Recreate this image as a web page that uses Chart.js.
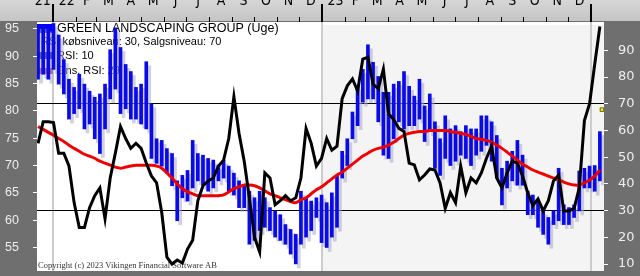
<!DOCTYPE html>
<html>
<head>
<meta charset="utf-8">
<script src="https://cdn.jsdelivr.net/npm/chart.js@4.4.1/dist/chart.umd.min.js"></script>
<style>
  html, body { margin: 0; padding: 0; background: #6f6f6f; }
  #wrap { width: 640px; height: 276px; }
</style>
</head>
<body>
<div id="wrap"><canvas id="chart" width="640" height="276"></canvas></div>
<script>
// Weekly price bars (left axis), RSI and average RSI (right axis)
const highs = [
  95.7, 95.7, 95.2, 96.0, 93.9, 89.4, 85.8, 84.3, 86.7, 84.9,
  83.6, 82.5, 83.1, 84.9, 91.2, 95.2, 91.6, 88.5, 87.2, 84.3,
  84.9, 89.0, 81.3, 74.9, 74.6, 73.1, 72.2, 67.2, 68.2, 69.1,
  74.6, 72.2, 71.9, 71.3, 71.0, 70.0, 71.0, 69.9, 68.6, 67.2,
  66.4, 65.3, 64.1, 65.3, 64.1, 62.3, 61.7, 61.0, 59.2, 58.3,
  57.4, 65.3, 64.1, 63.5, 64.1, 64.6, 63.2, 65.0, 68.2, 72.6,
  74.9, 79.8, 84.5, 87.6, 92.1, 88.9, 86.3, 83.4, 83.4, 84.9,
  85.4, 87.2, 84.5, 82.7, 85.8, 80.9, 83.1, 78.0, 74.9, 79.1,
  76.7, 77.3, 76.2, 77.3, 76.7, 76.7, 79.1, 79.1, 78.0, 75.5,
  69.5, 70.8, 72.6, 74.6, 71.9, 65.3, 64.6, 63.5, 61.7, 60.5,
  61.7, 69.5, 62.8, 62.3, 62.8, 69.0, 69.5, 69.9, 70.0, 76.2
];
const lows = [
  85.8, 86.7, 85.8, 87.6, 84.9, 83.1, 78.5, 79.5, 80.4, 76.7,
  77.6, 74.9, 72.2, 76.7, 82.2, 84.0, 79.5, 80.4, 78.5, 78.5,
  77.6, 76.7, 71.3, 70.4, 69.9, 68.6, 66.3, 59.9, 64.1, 63.5,
  65.9, 67.2, 66.4, 65.3, 65.9, 67.2, 67.7, 65.3, 64.6, 62.3,
  62.3, 55.6, 56.3, 58.1, 58.7, 58.1, 56.9, 56.3, 55.6, 53.8,
  52.0, 55.6, 56.9, 58.1, 60.5, 55.9, 55.0, 56.9, 58.7, 67.7,
  70.0, 74.9, 77.3, 81.6, 82.2, 82.2, 78.0, 71.9, 71.3, 74.9,
  78.0, 76.7, 77.3, 77.3, 78.5, 74.4, 76.2, 69.5, 68.2, 71.3,
  70.0, 70.8, 71.9, 71.3, 70.0, 71.9, 72.6, 73.7, 70.8, 67.7,
  62.8, 65.9, 67.2, 66.4, 66.4, 61.0, 61.0, 58.7, 57.4, 55.6,
  59.2, 59.9, 59.2, 59.2, 60.5, 61.7, 65.9, 65.9, 65.3, 67.2
];
const rsi = [
  55.2, 63.3, 63.3, 63.0, 51.5, 51.5, 46.7, 33.0, 23.7, 23.7,
  31.1, 35.6, 38.5, 27.0, 42.2, 51.5, 61.5, 57.0, 53.3, 55.2,
  53.3, 47.8, 43.0, 40.4, 29.3, 12.6, 10.0, 11.5, 10.4, 15.6,
  18.9, 33.7, 39.3, 41.1, 42.2, 46.7, 48.9, 57.0, 72.6, 58.9,
  48.5, 34.8, 20.0, 14.5, 44.1, 42.2, 32.2, 33.7, 35.6, 33.7,
  34.8, 42.2, 60.8, 55.2, 46.7, 49.6, 57.0, 52.6, 54.1, 71.9,
  76.7, 79.3, 74.8, 86.7, 87.4, 77.4, 75.6, 83.0, 66.3, 64.1,
  60.8, 59.6, 47.8, 47.1, 41.5, 43.3, 45.6, 45.2, 40.4, 30.8,
  36.7, 33.0, 46.7, 36.7, 42.2, 40.4, 44.1, 49.6, 54.1, 42.2,
  38.5, 44.1, 48.5, 47.8, 43.0, 36.7, 31.9, 34.4, 29.9, 33.7,
  41.1, 43.3, 29.9, 29.9, 30.8, 38.5, 63.7, 70.0, 84.8, 98.9
];
const rsiAvg = [
  61.5, 60.4, 59.3, 58.2, 57.0, 55.9, 54.5, 53.3, 52.2, 51.1,
  50.4, 49.6, 48.5, 47.8, 47.0, 46.3, 45.9, 46.3, 46.7, 47.0,
  47.0, 47.0, 47.0, 46.7, 45.9, 44.1, 42.2, 40.0, 38.2, 37.0,
  36.3, 35.6, 35.6, 35.6, 35.6, 35.6, 35.9, 37.0, 38.2, 38.9,
  39.6, 39.6, 39.3, 38.5, 37.4, 36.3, 35.6, 34.8, 34.1, 33.4,
  33.0, 34.1, 34.8, 36.3, 37.8, 38.9, 40.4, 41.9, 43.3, 44.4,
  45.9, 47.4, 48.9, 50.4, 51.5, 52.6, 53.3, 53.7, 54.5, 55.6,
  57.0, 58.2, 58.9, 59.3, 59.6, 59.6, 60.0, 60.0, 60.0, 60.0,
  59.6, 59.3, 58.9, 58.5, 57.8, 57.0, 56.7, 56.3, 55.6, 54.5,
  53.3, 51.9, 50.4, 48.9, 47.4, 46.3, 45.2, 44.4, 43.7, 42.9,
  42.2, 41.5, 40.7, 40.0, 39.6, 39.6, 40.4, 41.5, 42.9, 45.2
];
// week number relative to the first week of 2022 (first three bars are December 2021)
const weekNo = highs.map((_, i) => i - 3);
// small yellow marker at the right edge (right axis)
const markerWeek = [106.4];
const markerValue = [67.8];

const topLabels = ["'21", "'22", 'F', 'M', 'A', 'M', 'J', 'J', 'A', 'S', 'O', 'N', 'D',
                   "'23", 'F', 'M', 'A', 'M', 'J', 'J', 'A', 'S', 'O', 'N', 'D'];
const leftTicks = [55, 60, 65, 70, 75, 80, 85, 90, 95];
const rightTicks = [10, 20, 30, 40, 50, 60, 70, 80, 90];
const rsiLevels = [30, 70];
const legendLines = ['GREEN LANDSCAPING GROUP (Uge)', 'RSI købsniveau: 30, Salgsniveau: 70', 'RSI: 10', 'Gns. RSI: 29'];
const copyright = 'Copyright (c) 2023 Vikingen Financial Software AB';

// month boundaries in weeks (day offset / 7)
const monthDays = [0, 31, 59, 90, 120, 151, 181, 212, 243, 273, 304, 334];
const monthEdges = [];
[0, 365].forEach(y => monthDays.forEach(d => monthEdges.push((y + d) / 7)));
monthEdges.push(730 / 7);
const yearEdges = [0, 365 / 7, 730 / 7];
const labelPos = [-2.4];
for (let k = 0; k < 24; k++) labelPos.push((monthEdges[k] + monthEdges[k + 1]) / 2);

const X_MIN = -3.2, X_MAX = 106.8;
const FONT = '"Liberation Sans", Arial, sans-serif';
const NARROW = '"Liberation Sans Narrow", "DejaVu Sans Condensed", "Liberation Sans", sans-serif';

const backdrop = {
  id: 'backdrop',
  beforeDraw(chart) {
    const c = chart.ctx, a = chart.chartArea;
    c.save();
    c.fillStyle = '#6f6f6f';
    c.fillRect(0, 0, chart.width, chart.height);
    const g = c.createLinearGradient(0, 0, 0, a.top);
    g.addColorStop(0, '#d6d6d6');
    g.addColorStop(1, '#c4c4c4');
    c.fillStyle = g;
    c.fillRect(0, 0, chart.width, a.top - 1);
    c.fillStyle = '#ffffff';
    c.fillRect(a.left, a.top, a.right - a.left, a.bottom - a.top);
    const x23 = chart.scales.x.getPixelForValue(yearEdges[1]);
    c.fillStyle = '#f4f4f4';
    c.fillRect(x23, a.top + 3, a.right - x23, a.bottom - a.top - 3);
    c.restore();
  },
  beforeDatasetsDraw(chart) {
    const c = chart.ctx, a = chart.chartArea;
    c.save();
    // legend block
    c.textBaseline = 'middle';
    c.fillStyle = '#0000ff';
    c.fillRect(a.left, a.top + 2, 15, 9);
    c.fillStyle = '#000066';
    c.fillRect(a.left + 1, a.top + 30, 14, 7);
    c.fillStyle = '#a03060';
    c.fillRect(a.left + 2, a.top + 46, 14, 6);
    c.fillStyle = '#000';
    c.font = '12.5px ' + FONT;
    c.fillText(legendLines[0], 57, a.top + 7);
    c.font = '11px ' + FONT;
    c.fillText(legendLines[1], 41, a.top + 20);
    c.fillText(legendLines[2], 57, a.top + 34);
    c.fillText(legendLines[3], 57, a.top + 49);
    c.font = '8.5px "Liberation Serif", serif';
    c.fillStyle = '#333';
    c.textBaseline = 'alphabetic';
    c.fillText(copyright, a.left + 1, a.bottom - 3);
    c.restore();
  },
  beforeDatasetDraw(chart, args) {
    if (args.index !== 2) return;
    const c = chart.ctx;
    c.save();
    c.shadowColor = 'rgba(170,170,200,0.55)';
    c.shadowOffsetX = 3;
    c.shadowOffsetY = 4;
    c.shadowBlur = 0;
  },
  afterDatasetDraw(chart, args) {
    if (args.index !== 2) return;
    chart.ctx.restore();
  }
};

function topAxis(weight, opts) {
  const o = Object.assign({
    type: 'linear', position: 'top', min: X_MIN, max: X_MAX, weight: weight,
    offset: false, border: { display: false }
  }, opts);
  o.grid = Object.assign({ offset: false }, opts.grid || {});
  return o;
}

new Chart(document.getElementById('chart').getContext('2d'), {
  type: 'bar',
  data: {
    datasets: [
      {
        type: 'line', label: 'RSI', yAxisID: 'y2', xAxisID: 'x',
        data: weekNo.map((w, i) => ({ x: w, y: rsi[i] })),
        borderColor: '#000', borderWidth: 3, pointRadius: 0, tension: 0, order: 1
      },
      {
        type: 'line', label: 'Gns. RSI', yAxisID: 'y2', xAxisID: 'x',
        data: weekNo.map((w, i) => ({ x: w, y: rsiAvg[i] })),
        borderColor: '#ee0000', borderWidth: 3, pointRadius: 0, tension: 0.4, order: 2
      },
      {
        type: 'bar', label: 'Kurs', yAxisID: 'y', xAxisID: 'x',
        data: weekNo.map((w, i) => ({ x: w, y: [lows[i], highs[i]] })),
        backgroundColor: '#0a0ae8', barThickness: 3, order: 3
      },
      {
        type: 'line', label: 'marker', yAxisID: 'y2', xAxisID: 'x', showLine: false,
        data: markerWeek.map((w, i) => ({ x: w, y: markerValue[i] })),
        pointStyle: 'rect', pointRadius: 2.5, backgroundColor: '#ffee00',
        borderColor: '#666600', borderWidth: 1, order: 0
      }
    ]
  },
  options: {
    responsive: false,
    animation: false,
    layout: { padding: { bottom: 2 } },
    plugins: { legend: { display: false }, tooltip: { enabled: false } },
    scales: {
      x: topAxis(2, {
        grid: { display: false },
        ticks: {
          autoSkip: false, maxRotation: 0, color: '#000', padding: 4,
          font: { family: NARROW, size: 14 },
          callback: (v, i) => topLabels[i]
        },
        afterBuildTicks: s => { s.ticks = labelPos.map(v => ({ value: v })); },
        afterFit: s => { s.height = 22; s.paddingLeft = 0; s.paddingRight = 0; }
      }),
      xm: topAxis(1, {
        ticks: { display: false },
        grid: { drawOnChartArea: false, tickLength: 5, color: '#000', tickColor: '#000' },
        afterBuildTicks: s => { s.ticks = monthEdges.map(v => ({ value: v })); },
        afterFit: s => { s.height = 0; }
      }),
      xy: topAxis(0, {
        ticks: { display: false },
        grid: { drawOnChartArea: true, tickLength: 18, color: '#cccccc', lineWidth: 2, tickColor: '#000', tickWidth: 2 },
        afterBuildTicks: s => { s.ticks = yearEdges.map(v => ({ value: v })); },
        afterFit: s => { s.height = 0; }
      }),
      y: {
        type: 'linear', position: 'left', min: 50.7, max: 96.27,
        border: { display: false },
        grid: { drawOnChartArea: false, tickLength: 4, tickColor: '#ffffff' },
        ticks: { color: '#eeeeee', padding: 14, font: { family: FONT, size: 12.5 } },
        afterBuildTicks: s => { s.ticks = leftTicks.map(v => ({ value: v })); },
        afterFit: s => { s.width = 37; s.paddingTop = 0; s.paddingBottom = 0; }
      },
      y2: {
        type: 'linear', position: 'right', min: 7.4, max: 100.6,
        border: { display: false },
        grid: {
          drawOnChartArea: true, tickLength: 4, tickColor: '#ffffff',
          color: ctx => rsiLevels.includes(ctx.tick && ctx.tick.value) ? '#000' : 'rgba(0,0,0,0)'
        },
        ticks: { color: '#eeeeee', padding: 10, font: { family: '"DejaVu Sans", sans-serif', size: 13 } },
        afterBuildTicks: s => { s.ticks = rightTicks.map(v => ({ value: v })); },
        afterFit: s => { s.width = 36; s.paddingTop = 0; s.paddingBottom = 0; }
      }
    }
  },
  plugins: [backdrop]
});
</script>
</body>
</html>
